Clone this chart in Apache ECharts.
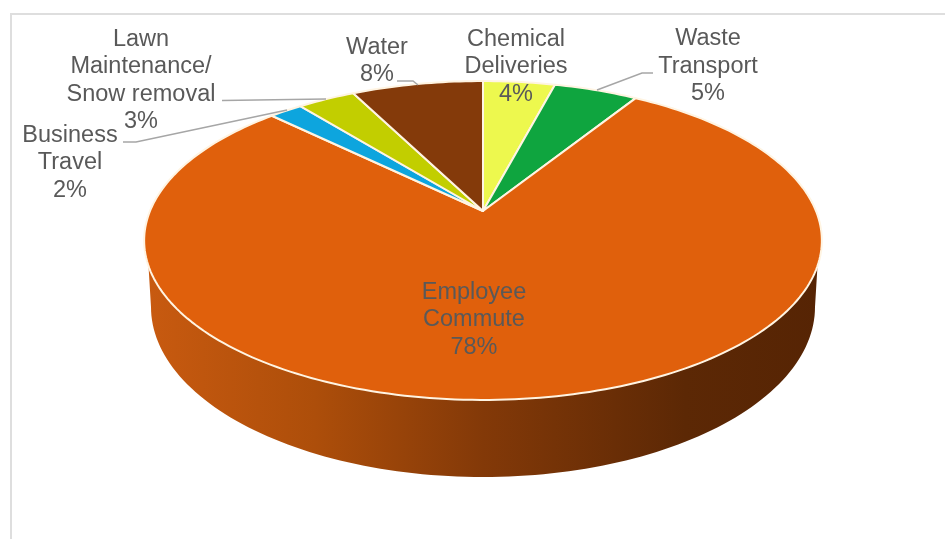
<!DOCTYPE html>
<html>
<head>
<meta charset="utf-8">
<style>html,body{margin:0;padding:0;background:#fff}#c{width:945px;height:539px}</style>
<script src="https://cdn.jsdelivr.net/npm/echarts@6/dist/echarts.min.js"></script>
</head>
<body>
<div id="c"></div>
<script>
const categories = ['Chemical\nDeliveries', 'Waste\nTransport', 'Employee\nCommute', 'Business\nTravel', 'Lawn\nMaintenance/\nSnow removal', 'Water'];
const shares = [4.1, 4.8, 78.4, 1.9, 3.3, 7.5];
const colors = ['#EDF84E', '#0FA53F', '#E0600C', '#0DA5DE', '#C2CE00', '#843A0A'];

// Layout only (pixels in the 945x539 window)
const labelAnchors = [[516, 67], [708, 66.5], [474, 320], [70, 163], [141, 80.5], [377, 61]];
const leaders = [
  [[653, 73], [642, 73], [597, 90]],
  [[123, 142], [136, 142], [287, 110]],
  [[222, 100.5], [326, 99]],
  [[397, 81], [413, 81], [418, 85]]
];
const APEX = { x: 483, y: 211 };
const PERSP = { a: 333, b: 154, k: 0.185 };
const TOP = { cy: 240, rx: 339, ry: 160 };
const BASE = { cy: 307, rx: 332, ry: 170 };
const WALL_START_Y = 266;

const total = shares.reduce((s, v) => s + v, 0);
function project(theta) {
  const u = Math.sin(theta), v = -Math.cos(theta), w = 1 - PERSP.k * v;
  return [APEX.x + PERSP.a * u / w, APEX.y + PERSP.b * v / w];
}
function slicePoints(startShare, share) {
  const pts = [[APEX.x, APEX.y]];
  const n = Math.max(6, Math.ceil(share * 3));
  for (let i = 0; i <= n; i++) {
    pts.push(project((startShare + share * i / n) / total * Math.PI * 2));
  }
  return pts;
}
function wallPoints() {
  const pts = [];
  const phi0 = Math.asin((WALL_START_Y - TOP.cy) / TOP.ry);
  const N = 120;
  for (let i = 0; i <= N; i++) {
    const p = Math.PI - phi0 - (Math.PI - 2 * phi0) * i / N;
    pts.push([APEX.x + TOP.rx * Math.cos(p), TOP.cy + TOP.ry * Math.sin(p)]);
  }
  for (let i = 0; i <= N; i++) {
    const p = Math.PI * i / N;
    pts.push([APEX.x + BASE.rx * Math.cos(p), BASE.cy + BASE.ry * Math.sin(p)]);
  }
  return pts;
}
const wallFill = {
  type: 'linear', x: 147, y: 0, x2: 820, y2: 0, global: true,
  colorStops: [
    { offset: 0, color: '#C85A10' },
    { offset: 0.25, color: '#AD4E0A' },
    { offset: 0.5, color: '#833908' },
    { offset: 0.8, color: '#5C2805' },
    { offset: 1, color: '#562404' }
  ]
};
const leaderColor = '#A6A6A6';
const textColor = '#595959';
const fontFamily = '"Liberation Sans", Arial, sans-serif';

const chart = echarts.init(document.getElementById('c'), null, { renderer: 'canvas' });
chart.setOption({
  animation: false,
  backgroundColor: '#ffffff',
  graphic: [{
    type: 'polyline', silent: true, z: 0,
    shape: { points: [[11, 539], [11, 14], [945, 14]] },
    style: { stroke: '#DEDEDE', lineWidth: 2, fill: null }
  }],
  series: [
    {
      type: 'custom', coordinateSystem: 'none', silent: true, z: 2,
      data: [0],
      renderItem: () => ({
        type: 'polygon', shape: { points: wallPoints() },
        style: { fill: wallFill, stroke: null }
      })
    },
    {
      type: 'custom', coordinateSystem: 'none', silent: true, z: 3,
      data: shares.map((v, i) => [v, shares.slice(0, i).reduce((s, x) => s + x, 0)]),
      renderItem: (params, api) => ({
        type: 'polygon',
        shape: { points: slicePoints(api.value(1), api.value(0)) },
        style: { fill: colors[params.dataIndex], stroke: '#FFF4E2', lineWidth: 2, lineJoin: 'round' }
      })
    },
    {
      type: 'custom', coordinateSystem: 'none', silent: true, z: 4,
      data: leaders.map((_, i) => i),
      renderItem: (params) => ({
        type: 'polyline',
        shape: { points: leaders[params.dataIndex] },
        style: { stroke: leaderColor, lineWidth: 1.5, fill: null }
      })
    },
    {
      type: 'custom', coordinateSystem: 'none', silent: true, z: 5,
      data: shares.map((v, i) => [v, i]),
      renderItem: (params, api) => {
        const i = params.dataIndex;
        return {
          type: 'text',
          x: labelAnchors[i][0], y: labelAnchors[i][1],
          style: {
            text: categories[i] + '\n' + Math.round(api.value(0)) + '%',
            font: '23.5px ' + fontFamily,
            fill: textColor,
            align: 'center', verticalAlign: 'middle',
            lineHeight: 27.5
          }
        };
      }
    }
  ]
});
</script>
</body>
</html>
